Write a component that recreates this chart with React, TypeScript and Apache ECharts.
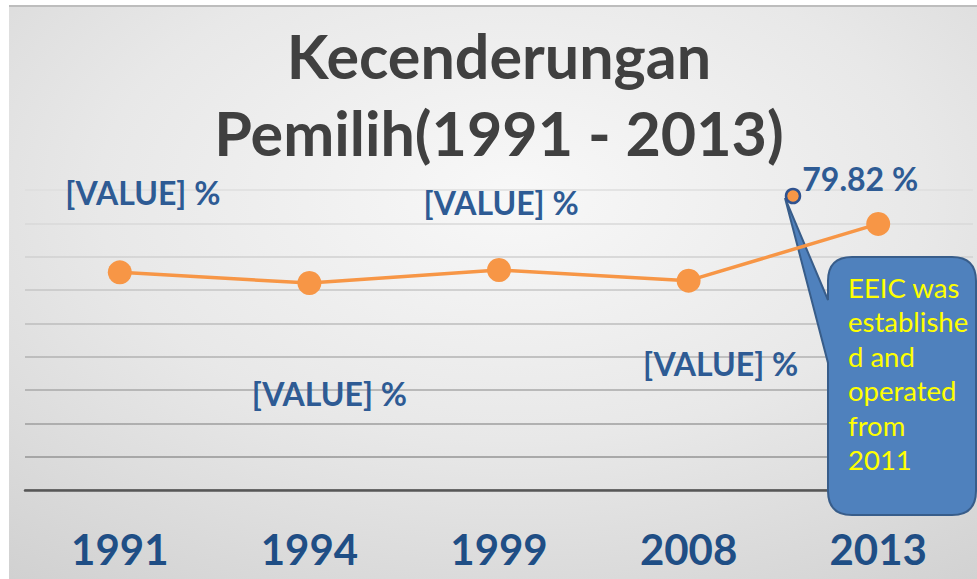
import React, { useEffect, useRef } from 'react';
import * as echarts from 'echarts';

// ---- data ----
const years = ['1991', '1994', '1999', '2008', '2013'];
const turnout = [65.3, 62.1, 66.0, 62.8, 79.82];
// text shown on each point's label; null means "show the value"
const labelTexts: (string | null)[] = ['[VALUE] %', '[VALUE] %', '[VALUE] %', '[VALUE] %', null];
const yMin = 0;
const yMax = 90;
const yInterval = 10;
const titleLines = ['Kecenderungan', 'Pemilih(1991 - 2013)'];
const calloutLines = ['EEIC was', 'establishe', 'd and', 'operated', 'from', '2011'];

// ---- style ----
const labelOffsets: [number, number][] = [
  [23, -80],
  [20, 110],
  [2, -68],
  [32, 83],
  [-18, -45],
];
const gridColors = ['#8a8a8a', '#959595', '#9e9e9e', '#a8a8a8', '#b2b2b2', '#bcbcbc', '#c6c6c6', '#d0d0d0', '#d8d8d8', '#dedede'];

const CX = 828, CT = 257, CB = 515, CR = 976, RR = 24;
const calloutD =
  `M ${CX + RR} ${CT} L ${CR - RR} ${CT} Q ${CR} ${CT} ${CR} ${CT + RR} ` +
  `L ${CR} ${CB - RR} Q ${CR} ${CB} ${CR - RR} ${CB} L ${CX + RR} ${CB} ` +
  `Q ${CX} ${CB} ${CX} ${CB - RR} L ${CX} 363 L 785 198 L ${CX} 300 ` +
  `L ${CX} ${CT + RR} Q ${CX} ${CT} ${CX + RR} ${CT} Z`;
echarts.graphic.registerShape('callout', echarts.graphic.extendPath(calloutD, {}));

const FONT = 'Lato, "Open Sans", sans-serif';

export default function App() {
  const ref = useRef<HTMLDivElement>(null);
  useEffect(() => {
    if (!ref.current) return;
    const chart = echarts.init(ref.current, undefined, { renderer: 'svg' });
    chart.setOption({
      animation: false,
      backgroundColor: '#ffffff',
      title: {
        text: titleLines.join('\n'),
        left: 499,
        textAlign: 'center',
        top: 17,
        padding: 0,
        textStyle: {
          fontFamily: FONT,
          fontSize: 61,
          fontWeight: 'bold',
          color: '#404040',
          lineHeight: 77,
        },
      },
      grid: { left: 25, right: 4, top: 190, bottom: 89, containLabel: false },
      xAxis: {
        type: 'category',
        data: years,
        boundaryGap: true,
        axisLine: { show: true, lineStyle: { color: '#575757', width: 2.5 } },
        axisTick: { show: false },
        axisLabel: {
          margin: 38,
          fontFamily: FONT,
          fontSize: 42,
          fontWeight: 'bold',
          color: '#1F4E85',
        },
      },
      yAxis: {
        type: 'value',
        min: yMin,
        max: yMax,
        interval: yInterval,
        axisLine: { show: false },
        axisTick: { show: false },
        axisLabel: { show: false },
        splitLine: { show: true, lineStyle: { color: gridColors, width: 1.5 } },
      },
      graphic: [
        {
          type: 'rect',
          z: -100,
          shape: { x: 9, y: 6, width: 968, height: 573 },
          style: {
            fill: {
              type: 'radial',
              x: 0.52,
              y: 0.33,
              r: 0.95,
              colorStops: [
                { offset: 0, color: '#f8f8f8' },
                { offset: 0.45, color: '#e8e8e8' },
                { offset: 1, color: '#cbcbcb' },
              ],
            },
          },
        },
        {
          type: 'line',
          z: -99,
          shape: { x1: 9, y1: 6, x2: 977, y2: 6 },
          style: { stroke: '#bdbdbd', lineWidth: 2 },
        },
        {
          type: 'callout',
          z: 1,
          x: 0,
          y: 0,
          style: { fill: '#4F81BD', stroke: '#385D8A', lineWidth: 2 },
        },
        {
          type: 'circle',
          z: 1,
          shape: { cx: 793, cy: 196, r: 7 },
          style: { fill: '#F79646', stroke: '#2F528F', lineWidth: 2.5 },
        },
        {
          type: 'text',
          z: 5,
          style: {
            x: 848,
            y: 270,
            text: calloutLines.join('\n'),
            fill: '#FFFF00',
            fontFamily: FONT,
            fontSize: 27.5,
            lineHeight: 34.5,
            verticalAlign: 'top',
            align: 'left',
          },
        },
      ],
      series: [
        {
          type: 'line',
          data: turnout.map((v, i) => ({
            value: v,
            label: { offset: labelOffsets[i] },
          })),
          symbol: 'circle',
          symbolSize: 24,
          lineStyle: { color: '#F79646', width: 3.5 },
          itemStyle: { color: '#F79646' },
          label: {
            show: true,
            position: 'inside',
            fontFamily: FONT,
            fontSize: 32,
            fontWeight: 'bold',
            color: '#2E5B94',
            formatter: (p: any) => labelTexts[p.dataIndex] ?? `${Number(p.value).toFixed(2)} %`,
          },
          z: 3,
        },
      ],
    });
    return () => chart.dispose();
  }, []);
  return (
    <div
      ref={ref}
      style={{ position: 'absolute', left: 0, top: 0, width: 977, height: 579 }}
    />
  );
}
